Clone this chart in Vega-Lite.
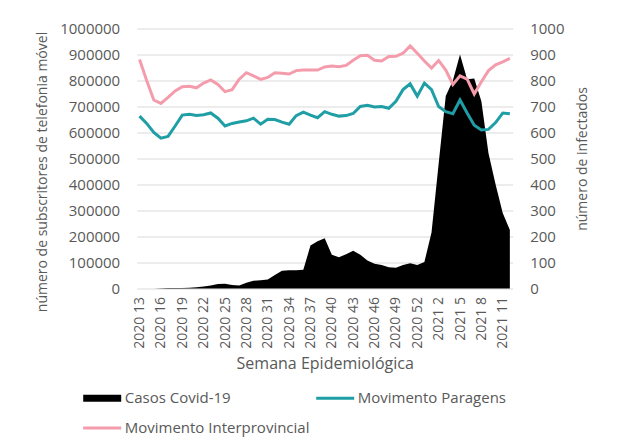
{
  "$schema": "https://vega.github.io/schema/vega-lite/v6.json",
  "autosize": "none",
  "width": 376,
  "height": 260,
  "padding": {"left": 136.7, "top": 28.5, "right": 104.3, "bottom": 158.5},
  "background": "white",
  "config": {
    "view": {"stroke": null},
    "font": "Open Sans",
    "axis": {"labelFont": "Open Sans", "titleFont": "Open Sans", "labelColor": "#595959", "titleColor": "#595959", "titleFontWeight": "normal"}
  },
  "data": {"values": [
    {"semana": "2020 13", "Casos Covid-19": 0, "Movimento Paragens": 663000, "Movimento Interprovincial": 881000},
    {"semana": "2020 14", "Casos Covid-19": 0, "Movimento Paragens": 635000, "Movimento Interprovincial": 800000},
    {"semana": "2020 15", "Casos Covid-19": 0, "Movimento Paragens": 600000, "Movimento Interprovincial": 725000},
    {"semana": "2020 16", "Casos Covid-19": 1, "Movimento Paragens": 578000, "Movimento Interprovincial": 712000},
    {"semana": "2020 17", "Casos Covid-19": 2, "Movimento Paragens": 585000, "Movimento Interprovincial": 735000},
    {"semana": "2020 18", "Casos Covid-19": 2, "Movimento Paragens": 625000, "Movimento Interprovincial": 760000},
    {"semana": "2020 19", "Casos Covid-19": 2, "Movimento Paragens": 667000, "Movimento Interprovincial": 776000},
    {"semana": "2020 20", "Casos Covid-19": 3, "Movimento Paragens": 670000, "Movimento Interprovincial": 778000},
    {"semana": "2020 21", "Casos Covid-19": 5, "Movimento Paragens": 665000, "Movimento Interprovincial": 772000},
    {"semana": "2020 22", "Casos Covid-19": 8, "Movimento Paragens": 668000, "Movimento Interprovincial": 790000},
    {"semana": "2020 23", "Casos Covid-19": 12, "Movimento Paragens": 675000, "Movimento Interprovincial": 802000},
    {"semana": "2020 24", "Casos Covid-19": 17, "Movimento Paragens": 655000, "Movimento Interprovincial": 785000},
    {"semana": "2020 25", "Casos Covid-19": 18, "Movimento Paragens": 625000, "Movimento Interprovincial": 757000},
    {"semana": "2020 26", "Casos Covid-19": 13, "Movimento Paragens": 635000, "Movimento Interprovincial": 765000},
    {"semana": "2020 27", "Casos Covid-19": 12, "Movimento Paragens": 640000, "Movimento Interprovincial": 805000},
    {"semana": "2020 28", "Casos Covid-19": 22, "Movimento Paragens": 645000, "Movimento Interprovincial": 830000},
    {"semana": "2020 29", "Casos Covid-19": 30, "Movimento Paragens": 655000, "Movimento Interprovincial": 818000},
    {"semana": "2020 30", "Casos Covid-19": 32, "Movimento Paragens": 632000, "Movimento Interprovincial": 804000},
    {"semana": "2020 31", "Casos Covid-19": 35, "Movimento Paragens": 651000, "Movimento Interprovincial": 812000},
    {"semana": "2020 32", "Casos Covid-19": 52, "Movimento Paragens": 650000, "Movimento Interprovincial": 830000},
    {"semana": "2020 33", "Casos Covid-19": 68, "Movimento Paragens": 640000, "Movimento Interprovincial": 828000},
    {"semana": "2020 34", "Casos Covid-19": 70, "Movimento Paragens": 632000, "Movimento Interprovincial": 825000},
    {"semana": "2020 35", "Casos Covid-19": 70, "Movimento Paragens": 665000, "Movimento Interprovincial": 838000},
    {"semana": "2020 36", "Casos Covid-19": 72, "Movimento Paragens": 678000, "Movimento Interprovincial": 840000},
    {"semana": "2020 37", "Casos Covid-19": 165, "Movimento Paragens": 667000, "Movimento Interprovincial": 840000},
    {"semana": "2020 38", "Casos Covid-19": 182, "Movimento Paragens": 657000, "Movimento Interprovincial": 840000},
    {"semana": "2020 39", "Casos Covid-19": 193, "Movimento Paragens": 680000, "Movimento Interprovincial": 852000},
    {"semana": "2020 40", "Casos Covid-19": 130, "Movimento Paragens": 670000, "Movimento Interprovincial": 856000},
    {"semana": "2020 41", "Casos Covid-19": 120, "Movimento Paragens": 663000, "Movimento Interprovincial": 853000},
    {"semana": "2020 42", "Casos Covid-19": 132, "Movimento Paragens": 665000, "Movimento Interprovincial": 858000},
    {"semana": "2020 43", "Casos Covid-19": 145, "Movimento Paragens": 673000, "Movimento Interprovincial": 878000},
    {"semana": "2020 44", "Casos Covid-19": 130, "Movimento Paragens": 700000, "Movimento Interprovincial": 895000},
    {"semana": "2020 45", "Casos Covid-19": 108, "Movimento Paragens": 705000, "Movimento Interprovincial": 897000},
    {"semana": "2020 46", "Casos Covid-19": 95, "Movimento Paragens": 698000, "Movimento Interprovincial": 878000},
    {"semana": "2020 47", "Casos Covid-19": 90, "Movimento Paragens": 700000, "Movimento Interprovincial": 875000},
    {"semana": "2020 48", "Casos Covid-19": 82, "Movimento Paragens": 693000, "Movimento Interprovincial": 892000},
    {"semana": "2020 49", "Casos Covid-19": 80, "Movimento Paragens": 720000, "Movimento Interprovincial": 893000},
    {"semana": "2020 50", "Casos Covid-19": 90, "Movimento Paragens": 765000, "Movimento Interprovincial": 905000},
    {"semana": "2020 51", "Casos Covid-19": 97, "Movimento Paragens": 787000, "Movimento Interprovincial": 933000},
    {"semana": "2020 52", "Casos Covid-19": 90, "Movimento Paragens": 740000, "Movimento Interprovincial": 905000},
    {"semana": "2020 53", "Casos Covid-19": 102, "Movimento Paragens": 790000, "Movimento Interprovincial": 875000},
    {"semana": "2021 1", "Casos Covid-19": 215, "Movimento Paragens": 765000, "Movimento Interprovincial": 848000},
    {"semana": "2021 2", "Casos Covid-19": 480, "Movimento Paragens": 700000, "Movimento Interprovincial": 877000},
    {"semana": "2021 3", "Casos Covid-19": 740, "Movimento Paragens": 680000, "Movimento Interprovincial": 840000},
    {"semana": "2021 4", "Casos Covid-19": 800, "Movimento Paragens": 672000, "Movimento Interprovincial": 785000},
    {"semana": "2021 5", "Casos Covid-19": 900, "Movimento Paragens": 725000, "Movimento Interprovincial": 818000},
    {"semana": "2021 6", "Casos Covid-19": 805, "Movimento Paragens": 675000, "Movimento Interprovincial": 805000},
    {"semana": "2021 7", "Casos Covid-19": 808, "Movimento Paragens": 628000, "Movimento Interprovincial": 748000},
    {"semana": "2021 8", "Casos Covid-19": 720, "Movimento Paragens": 610000, "Movimento Interprovincial": 795000},
    {"semana": "2021 9", "Casos Covid-19": 520, "Movimento Paragens": 612000, "Movimento Interprovincial": 838000},
    {"semana": "2021 10", "Casos Covid-19": 400, "Movimento Paragens": 638000, "Movimento Interprovincial": 860000},
    {"semana": "2021 11", "Casos Covid-19": 290, "Movimento Paragens": 675000, "Movimento Interprovincial": 872000},
    {"semana": "2021 12", "Casos Covid-19": 225, "Movimento Paragens": 672000, "Movimento Interprovincial": 885000}
  ]},
  "encoding": {
    "x": {
      "field": "semana", "type": "ordinal", "sort": null,
      "scale": {"type": "point", "padding": 0.4},
      "axis": {
        "values": ["2020 13","2020 16","2020 19","2020 22","2020 25","2020 28","2020 31","2020 34","2020 37","2020 40","2020 43","2020 46","2020 49","2020 52","2021 2","2021 5","2021 8","2021 11"],
        "labelAngle": -90, "labelFontSize": 14, "labelPadding": 8, "ticks": false, "domain": false, "grid": false,
        "title": "Semana Epidemiológica", "titleFontSize": 16, "titleY": 74.5, "titleBaseline": "middle"
      }
    },
    "color": {
      "field": "key", "type": "nominal",
      "scale": {"domain": ["Casos Covid-19", "Movimento Paragens", "Movimento Interprovincial"], "range": ["#000000", "#1f9fa5", "#f49cac"]},
      "legend": {
        "orient": "none", "legendX": -42, "legendY": 362, "columns": 2, "direction": "horizontal",
        "title": null, "padding": 0, "symbolSize": 1444, "symbolStrokeWidth": 3, "symbolType": "stroke",
        "labelFont": "Open Sans", "labelFontSize": 15, "labelColor": "#595959", "labelOffset": 15, "labelLimit": 400,
        "columnPadding": 0, "rowPadding": 14, "symbolLimit": 10,
        "encode": {"symbols": {"update": {
          "shape": {"signal": "datum.value === 'Casos Covid-19' ? 'M-1,-0.18H1V0.18H-1Z' : 'stroke'"},
          "fill": {"signal": "datum.value === 'Casos Covid-19' ? '#000000' : 'transparent'"},
          "strokeWidth": {"signal": "datum.value === 'Casos Covid-19' ? 0 : 3"},
          "opacity": {"value": 1}
        }}}
      }
    }
  },
  "layer": [
    {
      "transform": [{"fold": ["Casos Covid-19"]}],
      "mark": {"type": "area", "opacity": 1},
      "encoding": {
        "y": {
          "field": "value", "type": "quantitative",
          "scale": {"domain": [0, 1000], "nice": false},
          "axis": {
            "orient": "right", "values": [0,100,200,300,400,500,600,700,800,900,1000], "format": "d",
            "grid": false, "ticks": false, "domain": false, "labelFontSize": 15, "labelPadding": 17,
            "title": "número de infectados", "titleFontSize": 14, "titleAngle": 270, "titleX": 70, "titleY": 130, "titleBaseline": "middle", "titleAlign": "center"
          }
        }
      }
    },
    {
      "transform": [{"fold": ["Movimento Paragens", "Movimento Interprovincial"]}],
      "mark": {"type": "line", "strokeWidth": 3},
      "encoding": {
        "y": {
          "field": "value", "type": "quantitative",
          "scale": {"domain": [0, 1000000], "nice": false},
          "axis": {
            "orient": "left", "values": [0,100000,200000,300000,400000,500000,600000,700000,800000,900000,1000000], "format": "d",
            "grid": true, "gridColor": "#d9d9d9", "gridWidth": 1, "ticks": false, "domain": false, "labelFontSize": 15, "labelPadding": 17,
            "title": "número de subscritores  de telefonia móvel", "titleFontSize": 14, "titleAngle": 270, "titleX": -94, "titleY": 143, "titleBaseline": "middle", "titleAlign": "center"
          }
        }
      }
    }
  ],
  "resolve": {"scale": {"y": "independent"}, "axis": {"y": "independent"}}
}
